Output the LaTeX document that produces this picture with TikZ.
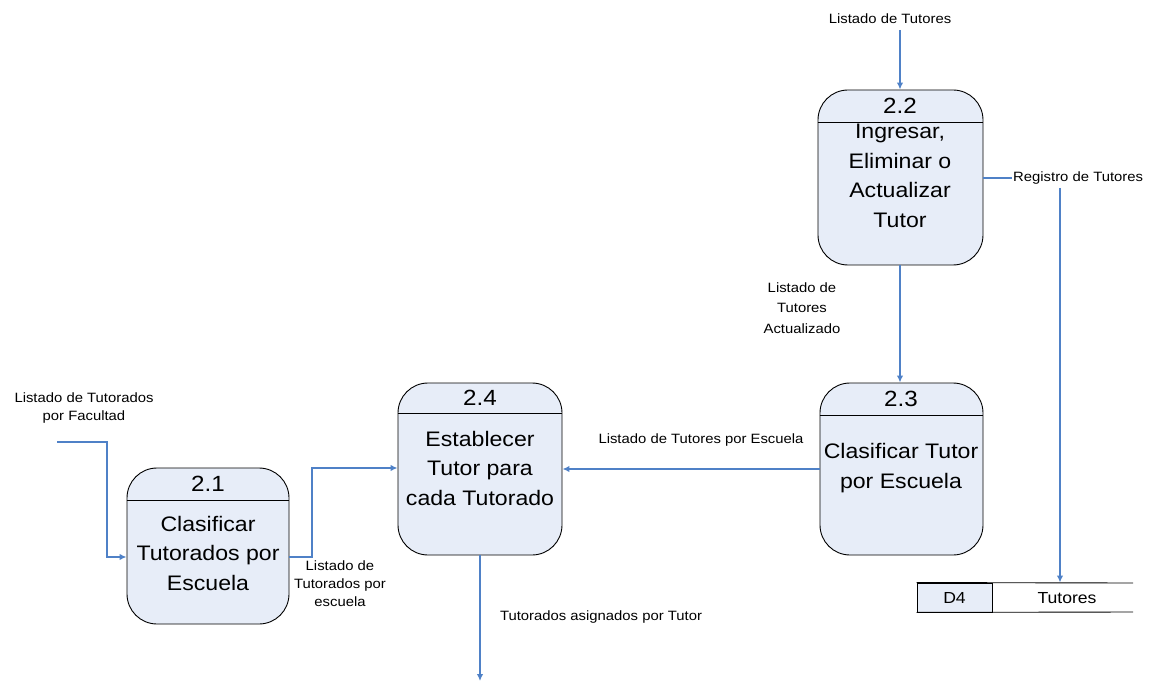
\documentclass[tikz,border=0pt]{standalone}
\usepackage{fontspec}
\setmainfont[FakeStretch=1.1]{Liberation Sans}
\usetikzlibrary{arrows.meta,calc}
\definecolor{flow}{RGB}{79,129,199}
\definecolor{procfill}{RGB}{231,237,248}
\tikzset{
  proc/.style={draw=black, line width=0.9pt, fill=procfill, rounded corners=30pt, inner sep=0pt},
  flowline/.style={draw=flow, line width=1.4pt, -{Latex[length=7pt,width=6.5pt]}},
  flowplain/.style={draw=flow, line width=1.4pt},
  lbl/.style={font=\fontsize{13.5}{18}\selectfont, align=center, inner sep=1pt},
  ptext/.style={font=\fontsize{21}{29.5}\selectfont, align=center, inner sep=0pt},
  pnum/.style={font=\fontsize{22}{24}\selectfont, inner sep=0pt},
  divider/.style={draw=black, line width=0.9pt},
}
\begin{document}
\begin{tikzpicture}[x=1pt,y=-1pt]
\useasboundingbox (0,0) rectangle (1156,684);

% process 2.2
\node[proc, minimum width=165pt, minimum height=175pt] (p22) at (900.5,177.5) {};
\draw[divider] (p22.west |- 0,122) -- (p22.east |- 0,122);
\node[pnum] (n22) at (900,106) {2.2};
\node[ptext] (t22) at (900,176) {Ingresar,\\Eliminar o\\Actualizar\\Tutor};

% process 2.3
\node[proc, minimum width=163pt, minimum height=172pt] (p23) at (901.5,469) {};
\draw[divider] (p23.west |- 0,415) -- (p23.east |- 0,415);
\node[pnum] (n23) at (901,399) {2.3};
\node[ptext] (t23) at (901,468) {Clasificar Tutor\\por Escuela};

% process 2.4
\node[proc, minimum width=164pt, minimum height=172pt] (p24) at (480,469) {};
\draw[divider] (p24.west |- 0,413) -- (p24.east |- 0,413);
\node[pnum] (n24) at (480,398) {2.4};
\node[ptext] (t24) at (480,468) {Establecer\\Tutor para\\cada Tutorado};

% process 2.1
\node[proc, minimum width=162pt, minimum height=156pt] (p21) at (208,546) {};
\draw[divider] (p21.west |- 0,500) -- (p21.east |- 0,500);
\node[pnum] (n21) at (208,484) {2.1};
\node[ptext] (t21) at (208,553) {Clasificar\\Tutorados por\\Escuela};

% data store D4
\node[draw=black, line width=0.9pt, fill=procfill, minimum width=75pt, minimum height=29pt,
      inner sep=0pt, font=\fontsize{16}{18}\selectfont] (d4) at (954.5,597.5) {D4};
\coordinate (d4top) at (1133,583);
\coordinate (d4bot) at (1133,612);
\draw[line width=0.9pt] (d4.north west) -- (d4top);
\draw[line width=0.9pt] (d4.south west) -- (d4bot);
\node[font=\fontsize{16}{18}\selectfont, inner sep=0pt] (tut) at (1067,598) {Tutores};

% external flow into 2.2
\coordinate (src22) at (900,30);
\node[lbl] (l1) at (890,19) {Listado de Tutores};
\draw[flowline] (src22) -- (src22 |- p22.north);

% 2.2 -> 2.3
\draw[flowline] (p22.south -| 900,0) -- (900,0 |- p23.north);
\node[lbl, font=\fontsize{13.5}{20.5}\selectfont] (l2) at (802,308) {Listado de\\Tutores\\Actualizado};

% 2.2 -> D4
\node[lbl, anchor=west] (reg) at (1012,178) {Registro de Tutores};
\draw[flowplain] (p22.east |- reg.west) -- (reg.west);
\coordinate (regdown) at (1060,188);
\draw[flowline] (regdown) -- (regdown |- d4.north);

% 2.3 -> 2.4
\draw[flowline] (p23.west) -- (p24.east);
\node[lbl] (l3) at (701,440) {Listado de Tutores por Escuela};

% external flow into 2.1
\coordinate (src21) at (57,442);
\node[lbl] (l4) at (84,408) {Listado de Tutorados\\por Facultad};
\draw[flowline] (src21) -- (107,442) -- (107,557) -- (p21.west |- 0,557);

% 2.1 -> 2.4
\draw[flowline] (p21.east |- 0,557) -- (312,557) -- (312,468) -- (p24.west |- 0,468);
\node[lbl] (l5) at (340,584) {Listado de\\Tutorados por\\escuela};

% 2.4 -> outside
\coordinate (out24) at (480,681);
\draw[flowline] (p24.south) -- (out24);
\node[lbl] (l6) at (601,617) {Tutorados asignados por Tutor};

\end{tikzpicture}
\end{document}
